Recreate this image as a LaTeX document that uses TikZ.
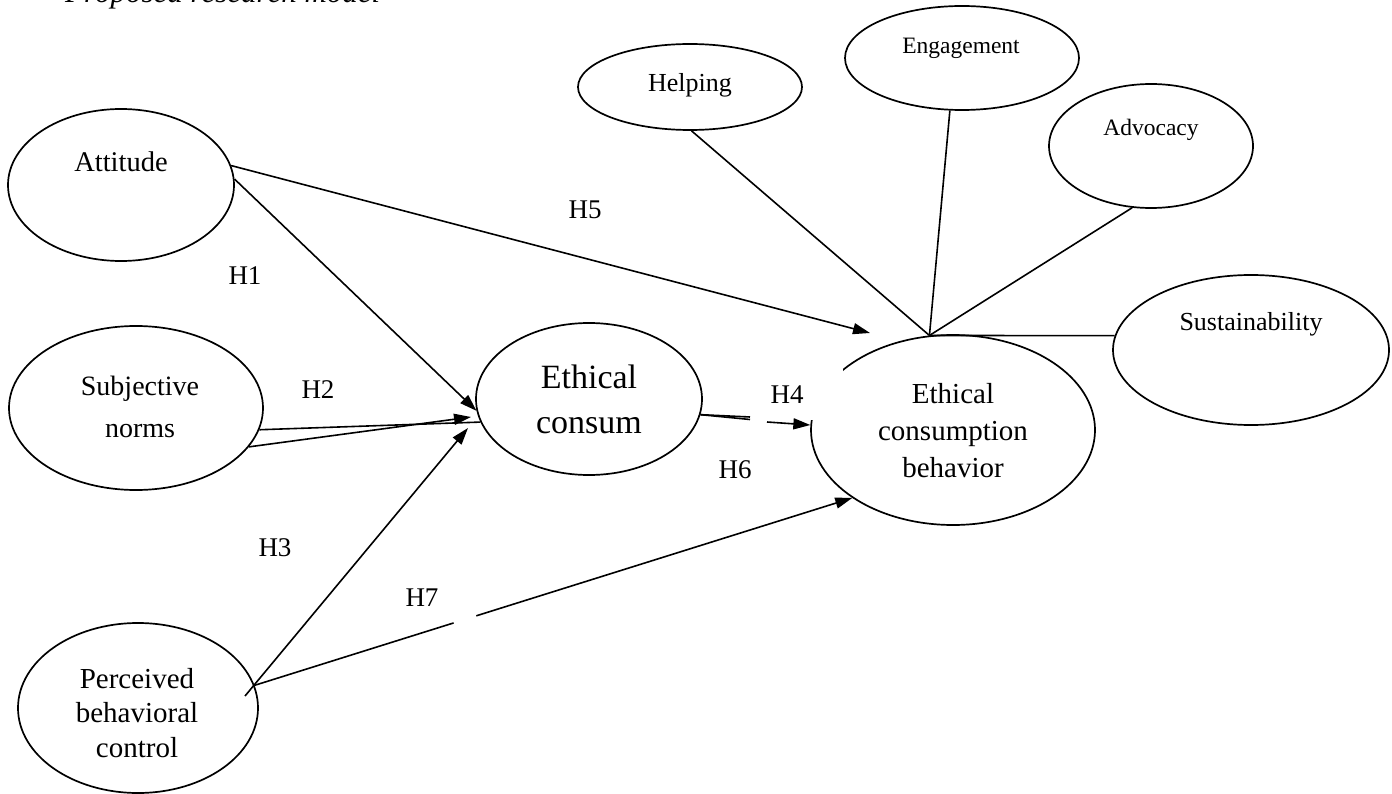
\documentclass[tikz,border=0pt]{standalone}
\usepackage{fontspec}
\setmainfont{Liberation Serif}
\usetikzlibrary{shapes.geometric,arrows.meta}
\begin{document}
\begin{tikzpicture}[x=1pt,y=-1pt,
  ell/.style={draw,ellipse,line width=1.7pt,inner sep=0pt},
  lbl/.style={inner sep=0pt,align=center},
  conn/.style={line width=1.6pt},
  arr/.style={conn,-{Triangle[length=17pt,width=11pt]}},
  hyp/.style={inner sep=0pt,font=\fontsize{27}{32}\selectfont}]
\useasboundingbox (0,0) rectangle (1392,794);
% title (cut by page top)
\node[anchor=base west,inner sep=0pt,font=\fontsize{31}{36}\selectfont\itshape] (title) at (65,2.5) {Proposed research model};
% ellipses
\node[ell,minimum width=226pt,minimum height=152pt] (att) at (121,185) {};
\node[ell,minimum width=254pt,minimum height=164pt] (sn) at (136,408) {};
\node[ell,minimum width=240pt,minimum height=170pt] (pbc) at (138,708) {};
\node[ell,minimum width=226pt,minimum height=152pt] (ec) at (589,399) {};
\node[ell,minimum width=284pt,minimum height=190pt] (ecb) at (953,430) {};
\node[ell,minimum width=224pt,minimum height=86pt] (help) at (690,87) {};
\node[ell,minimum width=234pt,minimum height=104pt] (eng) at (962,58) {};
\node[ell,minimum width=204pt,minimum height=124pt] (adv) at (1151,146) {};
\node[ell,minimum width=276pt,minimum height=150pt] (sus) at (1251,350) {};
% texts
\node[lbl,font=\fontsize{28.5}{34}\selectfont] (tatt) at (121,162) {Attitude};
\node[lbl,font=\fontsize{28}{42}\selectfont] (tsn) at (140,407) {Subjective\\norms};
\node[lbl,font=\fontsize{29}{34.5}\selectfont] (tpbc) at (137,713) {Perceived\\behavioral\\control};
\node[lbl,font=\fontsize{34}{45}\selectfont] (tec) at (589,399) {Ethical\\consum};
\node[lbl,font=\fontsize{29}{37}\selectfont] (tecb) at (953,431) {Ethical\\consumption\\behavior};
\node[lbl,font=\fontsize{26}{30}\selectfont] (thelp) at (690,85) {Helping};
\node[lbl,font=\fontsize{23.5}{28}\selectfont] (teng) at (961,48) {Engagement};
\node[lbl,font=\fontsize{23.5}{28}\selectfont] (tadv) at (1151,130) {Advocacy};
\node[lbl,font=\fontsize{26}{30}\selectfont] (tsus) at (1251,324) {Sustainability};
% white area hiding part of the outcome ellipse behind the H4 label
\fill[white] (752,352) rectangle (843,419.5);
% free ends
\coordinate (h5tip) at (870,333);
\coordinate (h2tip) at (471,417);
\coordinate (h3start) at (245,696);
\coordinate (h3tip) at (468,428);
\coordinate (h4a) at (750,417);
\coordinate (h4b) at (750,419.5);
\coordinate (h4c) at (767,422);
% connectors
\draw[arr] (att.10) -- (h5tip);
\draw[arr] (att.3) -- (ec.186);
\draw[conn] (sn.-10) -- (ec.192);
\draw[arr] (sn.-19) -- (h2tip);
\draw[arr] (h3start) -- (h3tip);
\path (pbc.11) -- (ecb.214) coordinate[pos=0.333] (g1) coordinate[pos=0.371] (g2);
\draw[conn] (pbc.11) -- (g1);
\draw[arr] (g2) -- (ecb.214);
\draw[conn] (ec.-8) -- (h4a);
\draw[conn] (ec.-8) -- (h4b);
\draw[arr] (h4c) -- (ecb.178);
\draw[conn] (help.-88) -- (ecb.104);
\draw[conn] (eng.-103) -- (ecb.104);
\draw[conn] (adv.-107) -- (ecb.104);
\draw[conn] (ecb.104) -- (sus.174);
% hypothesis labels
\node[hyp] (H5) at (585,210) {H5};
\node[hyp] (H1) at (245,276) {H1};
\node[hyp] (H2) at (318,390) {H2};
\node[hyp] (H4) at (787,395) {H4};
\node[hyp] (H6) at (735,470) {H6};
\node[hyp] (H3) at (275,548) {H3};
\node[hyp] (H7) at (422,598) {H7};
\end{tikzpicture}
\end{document}
